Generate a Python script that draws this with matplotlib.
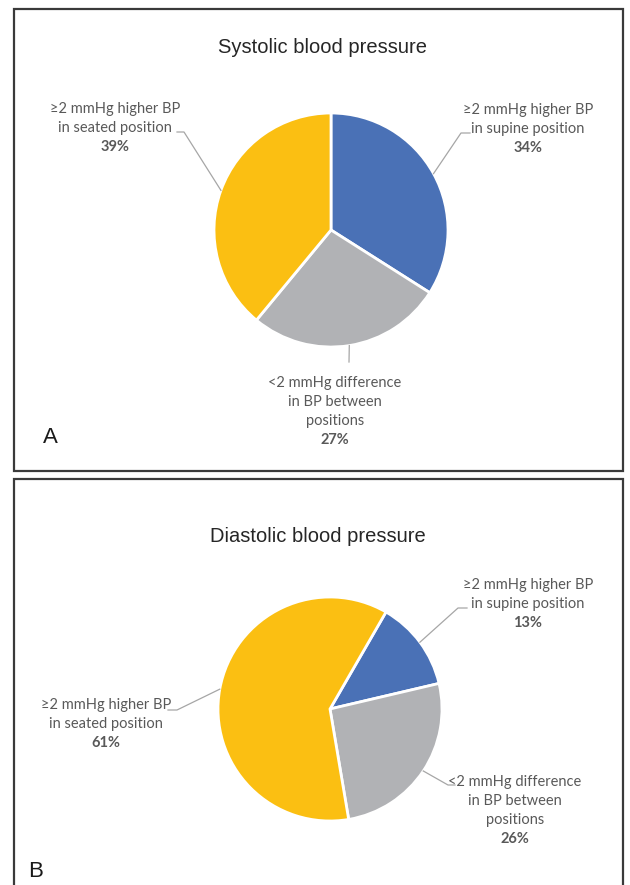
import numpy as np
import matplotlib
matplotlib.use('Agg')
import matplotlib.pyplot as plt
from matplotlib.patches import Rectangle

# Data
labels = ['≥2 mmHg higher BP\nin supine position',
          '<2 mmHg difference\nin BP between\npositions',
          '≥2 mmHg higher BP\nin seated position']
systolic = [34, 27, 39]
diastolic = [13, 26, 61]
colors = ['#4a71b6', '#b1b2b5', '#fbbf12']

W, H = 630, 885
fig = plt.figure(figsize=(W / 100, H / 100), dpi=100)
fig.patch.set_facecolor('white')

LABEL_FONT = ['Lato', 'DejaVu Sans']
TEXT_COLOR = '#595959'


def fx(x):
    return x / W


def fy(y):
    return 1 - y / H


# Panel borders
for (x0, y0, x1, y1) in [(14, 9, 623, 471), (14, 479, 623, 895)]:
    fig.patches.append(Rectangle((fx(x0), fy(y1)), fx(x1 - x0), (y1 - y0) / H,
                                 transform=fig.transFigure, fill=False,
                                 edgecolor='#3a3a3a', linewidth=1.6))


def draw_panel(values, title, title_xy, letter, letter_xy, cx, cy, r, startangle,
               label_pos, knees):
    ax = fig.add_axes([fx(cx - r), fy(cy + r), 2 * r / W, 2 * r / H])
    wedges, _ = ax.pie(values, colors=colors, startangle=startangle, counterclock=False,
                       radius=1, wedgeprops=dict(edgecolor='white', linewidth=2))
    ax.set_xlim(-1, 1)
    ax.set_ylim(-1, 1)
    ax.set_aspect('auto')
    ax.axis('off')

    def to_data(px, py):
        return (px - cx) / r, (cy - py) / r

    # leader lines + labels
    for w, lab, val, (lx, ly), knee in zip(wedges, labels, values, label_pos, knees):
        mid = np.deg2rad((w.theta1 + w.theta2) / 2)
        ex, ey = np.cos(mid), np.sin(mid)
        pts = [(ex, ey)] + [to_data(*k) for k in knee]
        xs, ys = zip(*pts)
        ax.plot(xs, ys, color='#a6a6a6', linewidth=0.9, clip_on=False)
        lines = lab.split('\n')
        for i, line in enumerate(lines):
            tx, ty = to_data(lx, ly + i * 19)
            ax.text(tx, ty, line, ha='center', va='center', fontsize=10.5,
                    color=TEXT_COLOR, family=LABEL_FONT, clip_on=False)
        tx, ty = to_data(lx, ly + len(lines) * 19)
        ax.text(tx, ty, f'{val}%', ha='center', va='center', fontsize=10.5,
                fontweight='bold', color=TEXT_COLOR, family=LABEL_FONT, clip_on=False)

    fig.text(fx(title_xy[0]), fy(title_xy[1]), title, ha='center', va='baseline',
             fontsize=14.5, color='#262626', family='Liberation Sans')
    fig.text(fx(letter_xy[0]), fy(letter_xy[1]), letter, ha='left', va='baseline',
             fontsize=16, color='#1a1a1a', family='Liberation Sans')


# Panel A: systolic
draw_panel(systolic, 'Systolic blood pressure', (322, 53), 'A', (43, 443),
           cx=331, cy=230, r=117, startangle=90,
           label_pos=[(528, 110), (335, 383), (115, 109)],
           knees=[[(461, 133), (470, 133)],
                  [(349, 362)],
                  [(184, 132), (177, 132)]])

# Panel B: diastolic
draw_panel(diastolic, 'Diastolic blood pressure', (318, 542), 'B', (28, 877),
           cx=330, cy=709, r=112, startangle=60,
           label_pos=[(528, 585), (515, 782), (106, 705)],
           knees=[[(458, 608), (467, 608)],
                  [(448, 785), (455, 785)],
                  [(177, 710), (168, 710)]])

fig.savefig('out.png', dpi=100)
